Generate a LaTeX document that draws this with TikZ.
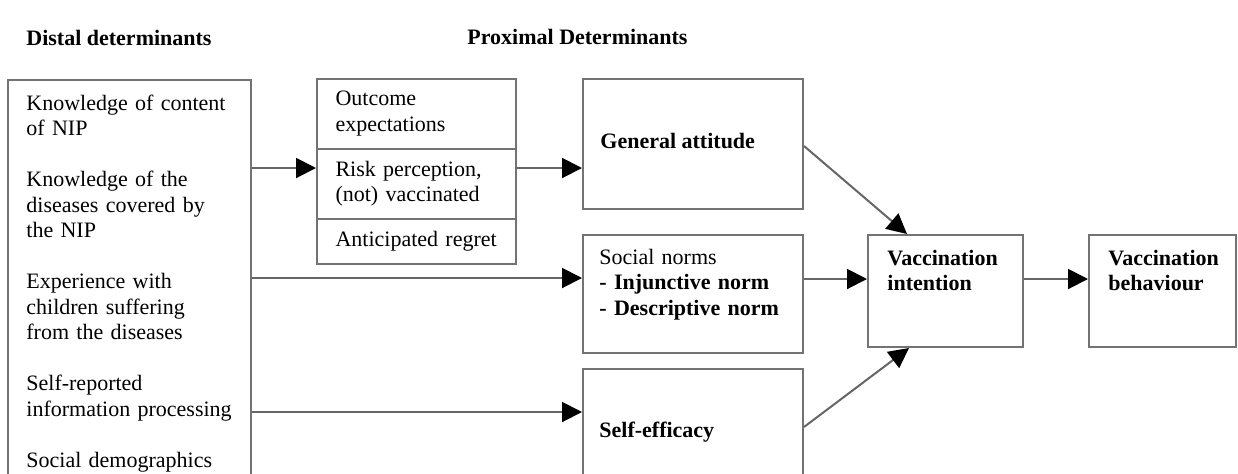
\documentclass[tikz,border=0pt]{standalone}
\usepackage{fontspec}
\setmainfont{Liberation Serif}
\usepackage{tikz}
\usetikzlibrary{arrows.meta,shapes.multipart,positioning}

\begin{document}
\begin{tikzpicture}[x=0.5pt, y=-0.5pt,
    box/.style={draw=black!55, line width=1pt, rectangle, anchor=north west, inner sep=0pt},
    txt/.style={anchor=base west, inner sep=0pt, align=left, font=\fontsize{11}{12.75}\selectfont},
    hdr/.style={txt, font=\fontsize{11}{12.75}\selectfont\bfseries},
    arr/.style={draw=black!60, line width=1pt, -{Triangle[length=10pt, width=10pt, color=black]}}
  ]
    \clip (0,0) rectangle (1238,473);
    \fill[white] (0,0) rectangle (1238,473);
    \node(DH) at (26,45) [hdr] {Distal determinants};
    \node(PH) at (467,44) [hdr] {Proximal Determinants};
    \node(LB) at (7,79) [box, minimum width=121.5pt, minimum height=235pt] {};
    \node(LBt) at (26,110) [txt, text width=108pt] {Knowledge of content\\ of NIP\\[12.75pt]
      Knowledge of the\\ diseases covered by\\ the NIP\\[12.75pt]
      Experience with\\ children suffering\\ from the diseases\\[12.75pt]
      Self-reported\\ information processing\\[12.75pt]
      Social demographics};
    \node(ST) at (316,78) [box, rectangle split, rectangle split parts=3, text width=81pt,
      inner xsep=9.25pt, inner ysep=5.7pt, align=left, font=\fontsize{11}{12.75}\selectfont]
      {Outcome\\ expectations
      \nodepart{two} Risk perception,\\ (not) vaccinated
      \nodepart{three} Anticipated regret};
    \node(GA) at (582,78) [box, minimum width=110pt, minimum height=65pt] {};
    \node(GAt) at (600,148) [hdr] {General attitude};
    \node(SN) at (582,234) [box, minimum width=110pt, minimum height=59pt] {};
    \node(SNt) at (599,264) [txt, text width=95pt] {Social norms\\ \textbf{- Injunctive norm}\\ \textbf{- Descriptive norm}};
    \node(SE) at (582,368) [box, minimum width=110pt, minimum height=90pt] {};
    \node(SEt) at (599,437) [hdr] {Self-efficacy};
    \node(VI) at (867,234) [box, minimum width=77.5pt, minimum height=56pt] {};
    \node(VIt) at (887,265) [hdr, text width=65pt] {Vaccination\\ intention};
    \node(VB) at (1088,234) [box, minimum width=73.5pt, minimum height=56pt] {};
    \node(VBt) at (1108,265) [hdr, text width=62pt] {Vaccination\\ behaviour};
    \draw[arr] (LB.east |- 0,168) -- (ST.west |- 0,168);
    \draw[arr] (ST.east |- 0,168) -- (GA.west |- 0,168);
    \draw[arr] (LB.east |- 0,278) -- (SN.west |- 0,278);
    \draw[arr] (LB.east |- 0,412) -- (SE.west |- 0,412);
    \draw[arr] (GA.east |- 0,146) -- ([xshift=20pt]VI.north west);
    \draw[arr] (SN.east |- 0,279) -- (VI.west |- 0,279);
    \draw[arr] (SE.east |- 0,427) -- ([xshift=21pt]VI.south west);
    \draw[arr] (VI.east |- 0,279) -- (VB.west |- 0,279);
  \end{tikzpicture}
\end{document}
